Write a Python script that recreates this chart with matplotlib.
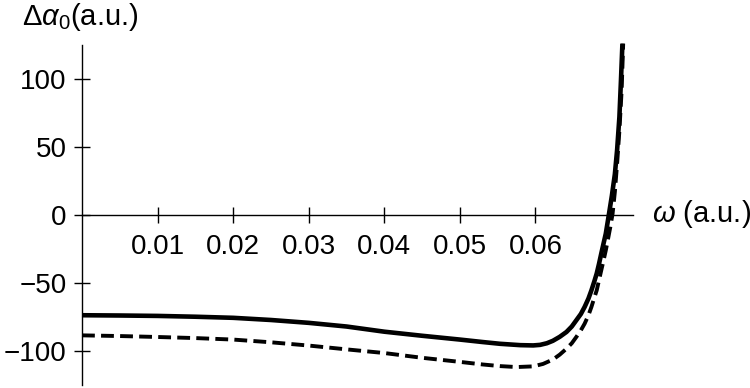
import matplotlib.pyplot as plt

plt.rcParams['font.family'] = ['Liberation Sans', 'DejaVu Sans']
plt.rcParams['mathtext.fontset'] = 'custom'
plt.rcParams['mathtext.rm'] = 'Liberation Sans'
plt.rcParams['mathtext.it'] = 'Liberation Sans:italic'

# 实线
omega_solid = [0.0, 0.005, 0.01, 0.015, 0.02, 0.025, 0.03, 0.035, 0.04, 0.045,
               0.05, 0.053, 0.0553, 0.058, 0.0597, 0.0606, 0.0615, 0.0623, 0.0632,
               0.0641, 0.0648, 0.0654, 0.066, 0.0665, 0.067, 0.0674, 0.0678,
               0.0681, 0.0684, 0.0687, 0.069, 0.0693, 0.0697, 0.0701, 0.0705,
               0.0708, 0.0711, 0.0713, 0.0715]
alpha_solid = [-73.7, -73.9, -74.2, -74.8, -75.6, -77.2, -79.3, -82.0, -85.8, -88.8,
               -91.6, -93.4, -94.7, -95.7, -95.9, -95.5, -94.3, -92.5, -89.6,
               -86.0, -82.0, -77.4, -72.8, -67.6, -61.5, -55.4, -48.5,
               -43.0, -36.0, -28.4, -21.0, -13.7, 0.0, 14.0, 30.0,
               48.0, 72.0, 98.0, 126.0]

# 虚线
omega_dash = [0.0, 0.005, 0.01, 0.015, 0.02, 0.025, 0.03, 0.035, 0.04, 0.045,
              0.05, 0.053, 0.0553, 0.0575, 0.0597, 0.061, 0.0623, 0.0632, 0.0641,
              0.0648, 0.0654, 0.066, 0.0665, 0.067, 0.0674, 0.0678, 0.0681,
              0.0684, 0.0687, 0.069, 0.0693, 0.0696, 0.0699, 0.0702, 0.0705,
              0.0708, 0.0711, 0.0714, 0.0716]
alpha_dash = [-88.5, -89.0, -89.7, -90.5, -91.6, -93.6, -96.0, -98.8, -101.5, -105.0,
              -108.0, -109.9, -111.1, -111.8, -111.3, -109.5, -106.3, -102.7, -98.3,
              -94.3, -89.7, -84.8, -79.9, -73.8, -67.6, -60.5, -55.4,
              -48.0, -40.7, -33.5, -26.0, -17.5, -8.8, 1.0, 17.0,
              38.0, 62.0, 92.0, 126.0]

x_ticks = [0.01, 0.02, 0.03, 0.04, 0.05, 0.06]
y_ticks = [-100, -50, 0, 50, 100]

fig = plt.figure(figsize=(7.5, 3.88), dpi=100)
ax = fig.add_axes([82 / 750, 3 / 388, (633 - 82) / 750, 340 / 388])
ax.set_xlim(0, 0.0729)
ax.set_ylim(-125, 125)

ax.plot(omega_solid, alpha_solid, color='black', lw=3.3, solid_capstyle='butt',
        solid_joinstyle='round', clip_on=False)
ax.plot(omega_dash, alpha_dash, color='black', lw=2.8, dashes=(3.3, 1.6),
        dash_joinstyle='round', clip_on=False)

# 坐标轴过原点
ax.spines['left'].set_position(('data', 0))
ax.spines['bottom'].set_position(('data', 0))
ax.spines['top'].set_visible(False)
ax.spines['right'].set_visible(False)
for s in ['left', 'bottom']:
    ax.spines[s].set_linewidth(1.0)

ax.set_xticks(x_ticks)
ax.set_xticklabels([f'{v:.2f}' for v in x_ticks])
ax.set_yticks(y_ticks)
ax.set_yticklabels([str(v).replace('-', '\u2212') for v in y_ticks])
ax.tick_params(direction='inout', length=12, width=1.0, labelsize=20)
ax.tick_params(axis='x', pad=8)
ax.tick_params(axis='y', pad=5)

fig.text(22 / 750, 1 - 17 / 388, r'$\Delta\alpha_0$(a.u.)', fontsize=21,
         ha='left', va='center')
fig.text(652 / 750, 1 - 214 / 388, r'$\omega$ (a.u.)', fontsize=21,
         ha='left', va='center')

fig.savefig('out.png', dpi=100)
